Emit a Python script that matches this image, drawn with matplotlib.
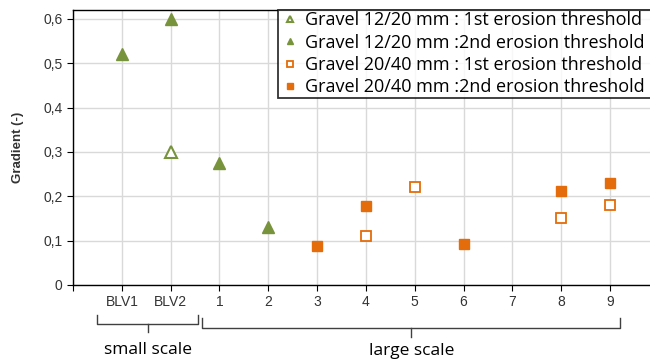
import numpy as np
import matplotlib.pyplot as plt
import matplotlib.transforms as mtransforms

# categories along x
cats = ['BLV1', 'BLV2', '1', '2', '3', '4', '5', '6', '7', '8', '9']

# gradient values per series (None = no point)
g1220_first = [None, 0.30, None, None, None, None, None, None, None, None, None]
g1220_second = [0.52, 0.60, 0.275, 0.13, None, None, None, None, None, None, None]
g2040_first = [None, None, None, None, None, 0.11, 0.22, None, None, 0.15, 0.18]
g2040_second = [None, None, None, None, 0.088, 0.178, None, 0.092, None, 0.213, 0.23]

labels = ['Gravel 12/20 mm : 1st erosion threshold',
          'Gravel 12/20 mm :2nd erosion threshold',
          'Gravel 20/40 mm : 1st erosion threshold',
          'Gravel 20/40 mm :2nd erosion threshold']

green = '#77933C'
orange = '#E46C0A'

fig = plt.figure(figsize=(6.5, 3.63), dpi=100)
ax = fig.add_axes([73/650, 78/363, 1 - 73/650, 275/363])

def pts(vals):
    xs = [i for i, v in enumerate(vals) if v is not None]
    ys = [v for v in vals if v is not None]
    return xs, ys

x, y = pts(g1220_first)
ax.plot(x, y, ls='none', marker='^', ms=8, mfc='white', mec=green, mew=1.5, label=labels[0])
x, y = pts(g1220_second)
ax.plot(x, y, ls='none', marker='^', ms=8, mfc=green, mec=green, label=labels[1])
x, y = pts(g2040_first)
ax.plot(x, y, ls='none', marker='s', ms=7.5, mfc='white', mec=orange, mew=1.3, label=labels[2])
x, y = pts(g2040_second)
ax.plot(x, y, ls='none', marker='s', ms=7.5, mfc=orange, mec=orange, label=labels[3])

ax.set_xlim(-1, 10.82)
ax.set_ylim(0, 0.62)
ax.set_xticks(np.arange(-1, 11))
ax.set_xticklabels([''] + cats)
ax.set_yticks(np.arange(0, 0.61, 0.1))
ax.set_yticklabels(['0', '0,1', '0,2', '0,3', '0,4', '0,5', '0,6'])
ax.grid(True, color='#D9D9D9', lw=1)
ax.set_axisbelow(True)
ax.spines['right'].set_visible(False)
for s in ['left', 'bottom', 'top']:
    ax.spines[s].set_color('black')
    ax.spines[s].set_linewidth(1)
ax.tick_params(axis='both', length=4, color='black', labelsize=10,
               labelcolor='#333333', labelfontfamily='Liberation Sans')
ax.tick_params(axis='x', pad=3)
ax.set_ylabel('Gradient (-)', fontsize=9.5, fontweight='bold', color='#333333',
              family='Liberation Sans', labelpad=14)

# legend box runs past the right edge of the picture, as in the original
leg = ax.legend(loc='upper left', bbox_to_anchor=(278/650, 1 - 10/363 - 0.3, 0.6, 0.3),
                bbox_transform=fig.transFigure, mode='expand',
                frameon=True, fancybox=False,
                prop={'family': 'Open Sans', 'size': 13}, markerscale=0.55,
                handlelength=1.2, handletextpad=0.2, labelspacing=0.24,
                borderpad=0.08, borderaxespad=0)
leg.get_frame().set_edgecolor('black')
leg.get_frame().set_linewidth(1.3)

# brackets under the axis
tr = mtransforms.blended_transform_factory(ax.transData, ax.transAxes)
def bracket(x0, x1, xm, ytop, ymid, ylow):
    ax.plot([x0, x0, x1, x1], [ytop, ymid, ymid, ytop], color='#404040', lw=1,
            transform=tr, clip_on=False)
    ax.plot([xm, xm], [ymid, ylow], color='#404040', lw=1, transform=tr, clip_on=False)

bracket(-0.51, 1.57, 0.53, -0.11, -0.14, -0.17)
bracket(1.65, 10.2, 5.93, -0.12, -0.155, -0.19)
ax.text(0.53, -0.235, 'small scale', transform=tr, ha='center', va='center',
        fontsize=12.5, family='Open Sans', color='black')
ax.text(5.93, -0.24, 'large scale', transform=tr, ha='center', va='center',
        fontsize=12.5, family='Open Sans', color='black')

fig.savefig('out.png', dpi=100)
